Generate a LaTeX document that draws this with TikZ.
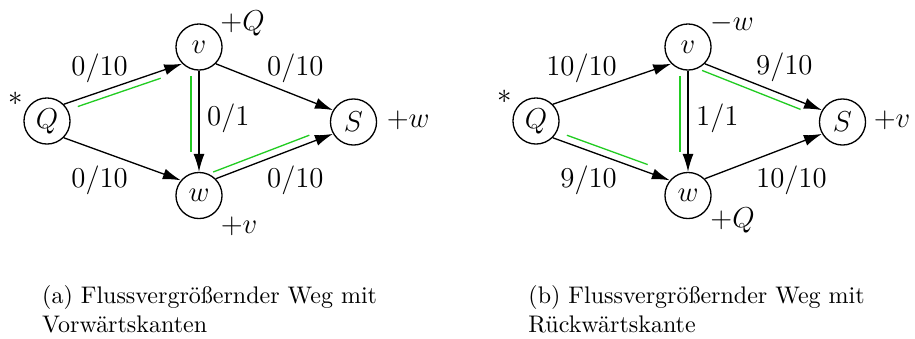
\documentclass[tikz,border=0pt]{standalone}
\usepackage{xcolor}
\usepackage{tikz}
\usetikzlibrary{positioning, arrows.meta, calc}
\definecolor{augGreen}{HTML}{22CC22}

\begin{document}
\begin{tikzpicture}[
  x=0.4167pt, y=-0.4167pt,
  every node/.style={font=\fontsize{12.5}{15}\selectfont},
  vertex/.style={
    circle, draw, line width=0.55pt,
    minimum size=19.2pt, inner sep=0pt
  },
  flowedge/.style={line width=0.55pt, -{Latex[length=7.5pt,width=4.6pt]}},
  augpath/.style={augGreen, line width=0.55pt},
  flowlbl/.style={inner sep=0pt},
  annot/.style={inner sep=0pt, anchor=west},
  subcap/.style={font=\normalsize, align=left, anchor=north west, inner sep=0pt},
]
\useasboundingbox (0,0) rectangle (915,338);

% (a) network with forward edges
\node[vertex] (qa) at (47,121) {$Q$};
\node[vertex] (va) at (199,47) {$v$};
\node[vertex] (wa) at (199,195.5) {$w$};
\node[vertex] (sa) at (353.5,122) {$S$};

\draw[flowedge] (qa.45) -- (va.225);
\draw[flowedge] (qa.315) -- (wa.140);
\draw[flowedge] (va.south) -- (wa.north);
\draw[flowedge] (va.315) -- (sa.150);
\draw[flowedge] (wa.45) -- (sa.210);

\node[flowlbl, anchor=east] (lqva) at (128.3,68.3) {$0/10$};
\node[flowlbl, anchor=east] (lqwa) at (128.3,180) {$0/10$};
\node[flowlbl, anchor=west] (lvwa) at (206.7,118.3) {$0/1$};
\node[flowlbl, anchor=west] (lvsa) at (266.7,68.3) {$0/10$};
\node[flowlbl, anchor=west] (lwsa) at (266.7,180) {$0/10$};

\node[inner sep=0pt] (stara) at (16,98.5) {$\ast$};
\node[annot] (mva) at (220,23.3) {$+Q$};
\node[annot] (msa) at (386.3,120) {$+w$};
\node[annot] (mwa) at (220.3,226.7) {$+v$};

% augmenting path (a)
\draw[augpath] ($(qa.45)!0.10!(va.225)!2.8pt!-90:(va.225)$) -- ($(qa.45)!0.80!(va.225)!2.8pt!-90:(va.225)$);
\draw[augpath] ($(va.south)!0.05!(wa.north)!3.3pt!-90:(wa.north)$) -- ($(va.south)!0.80!(wa.north)!3.3pt!-90:(wa.north)$);
\draw[augpath] ($(wa.45)!0.0!(sa.210)!3pt!90:(sa.210)$) -- ($(wa.45)!0.82!(sa.210)!3pt!90:(sa.210)$);

% (b) network with backward edge
\begin{scope}[shift={(489,0)}]
\node[vertex] (qb) at (47,121) {$Q$};
\node[vertex] (vb) at (199,47) {$v$};
\node[vertex] (wb) at (199,195.5) {$w$};
\node[vertex] (sb) at (353.5,122) {$S$};

\draw[flowedge] (qb.45) -- (vb.225);
\draw[flowedge] (qb.315) -- (wb.140);
\draw[flowedge] (vb.south) -- (wb.north);
\draw[flowedge] (vb.315) -- (sb.150);
\draw[flowedge] (wb.45) -- (sb.210);

\node[flowlbl, anchor=east] (lqvb) at (128.3,68.3) {$10/10$};
\node[flowlbl, anchor=east] (lqwb) at (128.3,180) {$9/10$};
\node[flowlbl, anchor=west] (lvwb) at (206.7,118.3) {$1/1$};
\node[flowlbl, anchor=west] (lvsb) at (266.7,67) {$9/10$};
\node[flowlbl, anchor=west] (lwsb) at (266.7,180) {$10/10$};

\node[inner sep=0pt] (starb) at (16,97) {$\ast$};
\node[annot] (mvb) at (221,23.3) {$-w$};
\node[annot] (msb) at (384.3,120) {$+v$};
\node[annot] (mwb) at (221,220) {$+Q$};

% augmenting path (b)
\draw[augpath] ($(qb.315)!0.10!(wb.140)!3pt!90:(wb.140)$) -- ($(qb.315)!0.79!(wb.140)!3pt!90:(wb.140)$);
\draw[augpath] ($(vb.south)!0.05!(wb.north)!3.3pt!-90:(wb.north)$) -- ($(vb.south)!0.80!(wb.north)!3.3pt!-90:(wb.north)$);
\draw[augpath] ($(vb.315)!0.0!(sb.150)!3pt!-90:(sb.150)$) -- ($(vb.315)!0.84!(sb.150)!3pt!-90:(sb.150)$);
\end{scope}

% Captions
\node[subcap] (capa) at (41.7,285) {(a) Flussvergrößernder Weg mit\\Vorwärtskanten};
\node[subcap] (capb) at (528,285) {(b) Flussvergrößernder Weg mit\\Rückwärtskante};

\end{tikzpicture}
\end{document}
